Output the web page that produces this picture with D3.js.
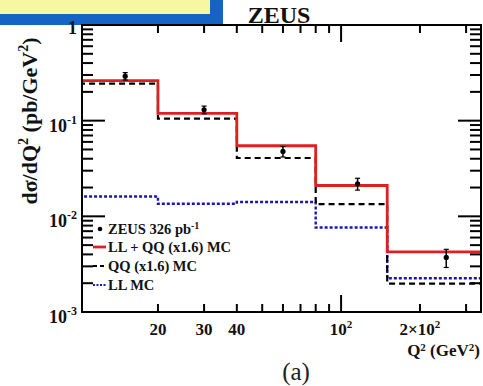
<!DOCTYPE html>
<html><head><meta charset="utf-8">
<script src="https://cdnjs.cloudflare.com/ajax/libs/d3/7.8.5/d3.min.js"></script>
<style>
html,body{margin:0;padding:0;background:#fff;}
svg{display:block;}
</style></head>
<body>
<script>
// ---- data ----
const binEdges = [10, 20, 40, 80, 150, 350];
const llqq = [0.262, 0.119, 0.0547, 0.0210, 0.00425];   // LL + QQ (x1.6) MC
const qq   = [0.244, 0.105, 0.0407, 0.01342, 0.00198];  // QQ (x1.6) MC
const ll   = [0.0161, 0.01352, 0.0141, 0.00764, 0.00225]; // LL MC
const dataX   = [15, 30, 60, 115.6, 252];
const dataY   = [0.292, 0.130, 0.0477, 0.0219, 0.00372];
const dataErr = [0.026, 0.012, 0.0060, 0.0031, 0.0008];
const yMajor = [1e-3, 1e-2, 1e-1, 1];
const yMajorLabels = [["10","-3"],["10","-2"],["10","-1"],["1",""]];
const xMinor = [20,30,40,50,60,70,80,90,200,300];
const xMajor = [100];
const xLabelVals = [20, 30, 40, 100, 200];
const xLabels = [["20",""],["30",""],["40",""],["10","2"],["2\u00d710","2"]];

const W = 483, H = 386;
const L = 82, R = 481, T = 25, B = 312;
const FONT = "'Liberation Serif','Times New Roman',Times,serif";
const svg = d3.select("body").append("svg").attr("width", W).attr("height", H)
  .attr("font-family", FONT);

const x = d3.scaleLog().domain([10.26, 342]).range([L, R]);
const y = d3.scaleLog().domain([1e-3, 1]).range([B, T]);

// top-left banner
svg.append("rect").attr("x",0).attr("y",0).attr("width",223).attr("height",25).attr("fill","#1563c4");
svg.append("rect").attr("x",0).attr("y",0).attr("width",210).attr("height",14).attr("fill","#f7f7a3");

// title
svg.append("text").attr("x",279).attr("y",23).attr("text-anchor","middle")
  .attr("font-size",24).attr("font-weight","bold").attr("fill","#111").text("ZEUS");

// clip
svg.append("clipPath").attr("id","clip").append("rect")
  .attr("x",L).attr("y",T).attr("width",R-L).attr("height",B-T);
const plot = svg.append("g").attr("clip-path","url(#clip)");

function stepPts(vals){ const p = vals.map((v,i)=>[binEdges[i], v]); p.push([binEdges[binEdges.length-1], vals[vals.length-1]]); return p; }
const line = d3.line().x(d=>x(d[0])).y(d=>y(d[1])).curve(d3.curveStepAfter);

plot.append("path").attr("d", line(stepPts(ll))).attr("fill","none")
  .attr("stroke","#1818b0").attr("stroke-width",2.4).attr("stroke-dasharray","3,2");
plot.append("path").attr("d", line(stepPts(qq))).attr("fill","none")
  .attr("stroke","#000").attr("stroke-width",2.2).attr("stroke-dasharray","6,4");
plot.append("path").attr("d", line(stepPts(llqq))).attr("fill","none")
  .attr("stroke","#dd2020").attr("stroke-width",2.8);

// data points
const pts = plot.append("g");
dataX.forEach((dx,i)=>{
  const cx = x(dx), lo = y(dataY[i]-dataErr[i]), hi = y(dataY[i]+dataErr[i]);
  pts.append("line").attr("x1",cx).attr("x2",cx).attr("y1",lo).attr("y2",hi).attr("stroke","#000").attr("stroke-width",1.5);
  pts.append("line").attr("x1",cx-2.5).attr("x2",cx+2.5).attr("y1",lo).attr("y2",lo).attr("stroke","#000").attr("stroke-width",1.2);
  pts.append("line").attr("x1",cx-2.5).attr("x2",cx+2.5).attr("y1",hi).attr("y2",hi).attr("stroke","#000").attr("stroke-width",1.2);
  pts.append("circle").attr("cx",cx).attr("cy",y(dataY[i])).attr("r",2.6).attr("fill","#000");
});

// frame
svg.append("rect").attr("x",L).attr("y",T).attr("width",R-L).attr("height",B-T)
  .attr("fill","none").attr("stroke","#000").attr("stroke-width",2);

// ticks (inside, all sides)
const yMinor = [];
for (let e=-3; e<0; e++) for (let m=2; m<=9; m++) yMinor.push(m*Math.pow(10,e));
const tg = svg.append("g").attr("stroke","#000").attr("stroke-width",2);
yMinor.forEach(v=>{
  tg.append("line").attr("x1",L).attr("x2",L+11).attr("y1",y(v)).attr("y2",y(v));
  tg.append("line").attr("x1",R).attr("x2",R-11).attr("y1",y(v)).attr("y2",y(v));
});
yMajor.forEach(v=>{
  tg.append("line").attr("x1",L).attr("x2",L+23).attr("y1",y(v)).attr("y2",y(v));
  tg.append("line").attr("x1",R).attr("x2",R-23).attr("y1",y(v)).attr("y2",y(v));
});
xMinor.forEach(v=>{
  tg.append("line").attr("x1",x(v)).attr("x2",x(v)).attr("y1",B).attr("y2",B-8);
  tg.append("line").attr("x1",x(v)).attr("x2",x(v)).attr("y1",T).attr("y2",T+8);
});
xMajor.forEach(v=>{
  tg.append("line").attr("x1",x(v)).attr("x2",x(v)).attr("y1",B).attr("y2",B-17);
  tg.append("line").attr("x1",x(v)).attr("x2",x(v)).attr("y1",T).attr("y2",T+17);
});

// y tick labels
yMajor.forEach((v,i)=>{
  const t = svg.append("text").attr("x",77).attr("y",y(v)+(v===1?9:11))
    .attr("text-anchor","end").attr("font-size",18).attr("font-weight","bold").attr("fill","#111");
  t.append("tspan").text(yMajorLabels[i][0]);
  if (yMajorLabels[i][1]) t.append("tspan").attr("dy",-8).attr("font-size",12).text(yMajorLabels[i][1]);
});

// x tick labels
xLabelVals.forEach((v,i)=>{
  const t = svg.append("text").attr("x",x(v)).attr("y",335)
    .attr("text-anchor","middle").attr("font-size",17).attr("font-weight","bold").attr("fill","#111");
  t.append("tspan").text(xLabels[i][0]);
  if (xLabels[i][1]) t.append("tspan").attr("dy",-7).attr("font-size",11).text(xLabels[i][1]);
});

// x axis title
{
  const t = svg.append("text").attr("x",480).attr("y",356).attr("text-anchor","end")
    .attr("font-size",17).attr("font-weight","bold").attr("fill","#111");
  t.append("tspan").text("Q");
  t.append("tspan").attr("dy",-5).attr("font-size",11).text("2");
  t.append("tspan").attr("dy",5).text(" (GeV");
  t.append("tspan").attr("dy",-5).attr("font-size",11).text("2");
  t.append("tspan").attr("dy",5).text(")");
}

// y axis title
{
  const t = svg.append("text").attr("transform","translate(37,121) rotate(-90)")
    .attr("text-anchor","middle").attr("font-size",22).attr("font-weight","bold").attr("fill","#111");
  t.append("tspan").text("d\u03c3/dQ");
  t.append("tspan").attr("dy",-9).attr("font-size",14).text("2");
  t.append("tspan").attr("dy",9).text(" (pb/GeV");
  t.append("tspan").attr("dy",-9).attr("font-size",14).text("2");
  t.append("tspan").attr("dy",9).text(")");
}

// (a)
svg.append("text").attr("x",296).attr("y",380).attr("text-anchor","middle")
  .attr("font-size",25).attr("fill","#222").text("(a)");

// legend
const lg = svg.append("g").attr("font-size",14.5).attr("font-weight","bold").attr("fill","#111");
const legRows = [
  {label:["ZEUS 326 pb","-1"], type:"pt"},
  {label:["LL + QQ (x1.6) MC",""], type:"red"},
  {label:["QQ (x1.6) MC",""], type:"blk"},
  {label:["LL MC",""], type:"blue"}
];
const legY = [229, 247, 266, 285];
legRows.forEach((r,i)=>{
  const yy = legY[i];
  if (r.type==="pt") lg.append("circle").attr("cx",100).attr("cy",yy).attr("r",2.3).attr("fill","#000");
  if (r.type==="red") lg.append("line").attr("x1",93).attr("x2",106).attr("y1",yy).attr("y2",yy).attr("stroke","#dd2020").attr("stroke-width",2.8);
  if (r.type==="blk") lg.append("line").attr("x1",93).attr("x2",106).attr("y1",yy).attr("y2",yy).attr("stroke","#000").attr("stroke-width",2).attr("stroke-dasharray","4,3");
  if (r.type==="blue") lg.append("line").attr("x1",93).attr("x2",106).attr("y1",yy).attr("y2",yy).attr("stroke","#1818b0").attr("stroke-width",2).attr("stroke-dasharray","2,1.5");
  const t = lg.append("text").attr("x",108).attr("y",yy+5);
  t.append("tspan").text(r.label[0]);
  if (r.label[1]) t.append("tspan").attr("dy",-5).attr("font-size",10).text(r.label[1]);
});
</script>
</body></html>
